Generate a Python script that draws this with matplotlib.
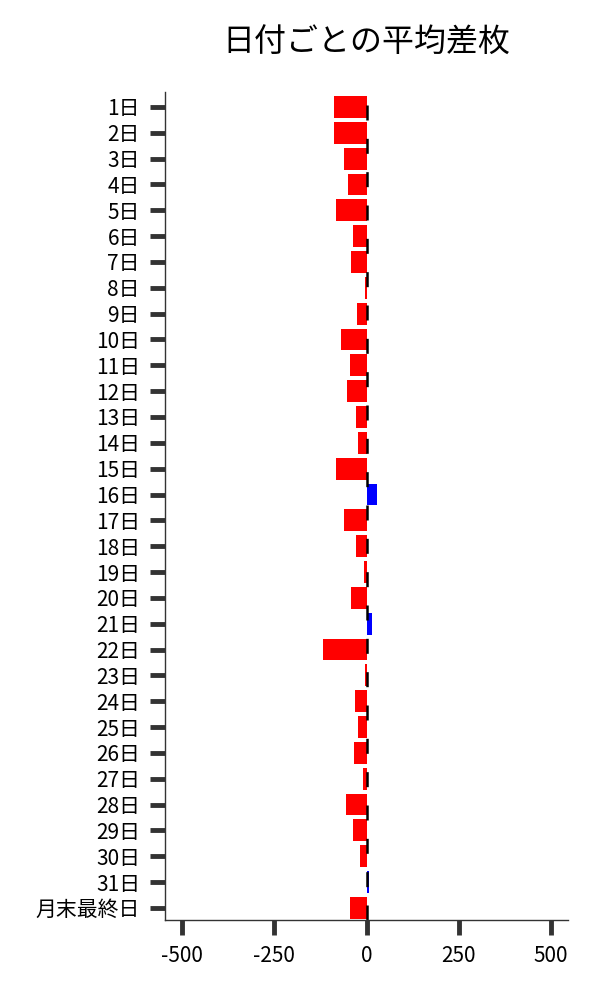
import matplotlib
matplotlib.use("Agg")
import matplotlib.pyplot as plt

plt.rcParams['font.family'] = ['Noto Sans CJK JP', 'DejaVu Sans']

days = [f"{i}日" for i in range(1, 32)] + ["月末最終日"]
diffs = [-89, -87, -62, -51, -84, -38, -41, -5, -27, -68,
         -46, -54, -30, -22, -84, 27, -62, -30, -8, -41,
         15, -119, -4, -32, -24, -35, -11, -57, -38, -19,
         6, -46]
xticks = [-500, -250, 0, 250, 500]

colors = ["#0000ff" if v > 0 else "#ff0000" for v in diffs]

fig = plt.figure(figsize=(6, 10), dpi=100)
ax = fig.add_axes([0.275, 0.08, 0.672, 0.828])

pos = list(range(len(days)))
ax.barh(pos, diffs, height=0.85, color=colors)

# dashed zero line
lw = 1.8
ax.axvline(0, color="black", linewidth=lw,
           linestyle=(0, (10.8 / lw, 13.2 / lw)))

ax.set_yticks(pos)
ax.set_yticklabels(days)
ax.set_ylim(len(days) - 0.53, -0.58)
ax.set_xlim(-546, 546)
ax.set_xticks(xticks)
ax.set_xticklabels([str(t) for t in xticks])

for s in ["top", "right"]:
    ax.spines[s].set_visible(False)
for s in ["left", "bottom"]:
    ax.spines[s].set_color("#333333")
    ax.spines[s].set_linewidth(1.0)

ax.tick_params(axis="both", length=11, width=3.5, color="#333333",
               labelsize=15, pad=7)

fig.text(0.611, 0.957, "日付ごとの平均差枚", fontsize=23,
         ha="center", va="center")

fig.savefig("out.png", dpi=100)
